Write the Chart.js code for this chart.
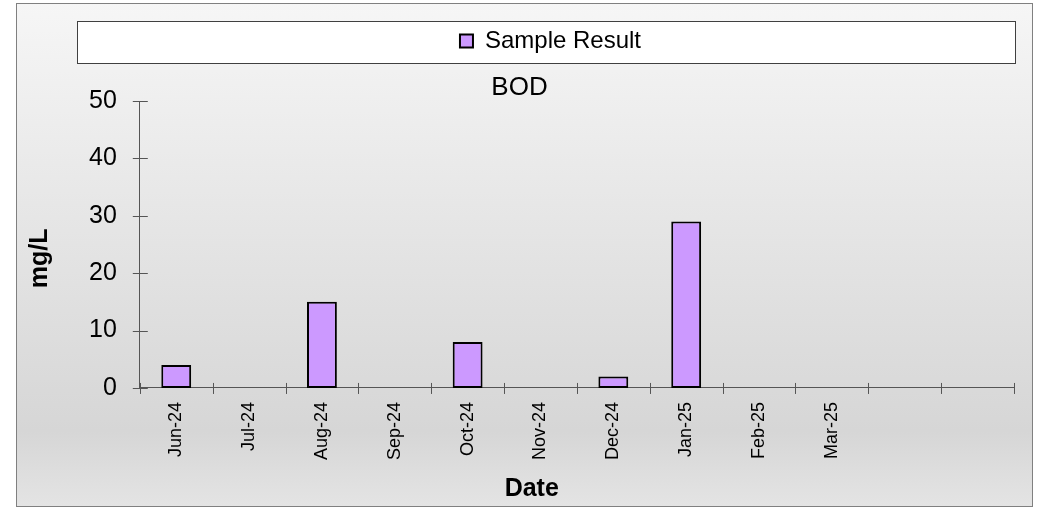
<!DOCTYPE html>
<html>
<head>
<meta charset="utf-8">
<script src="https://cdn.jsdelivr.net/npm/chart.js@4/dist/chart.umd.min.js"></script>
<style>
    html, body { margin: 0; padding: 0; background: #fff; }
    #wrap { width: 1046px; height: 508px; position: relative; }
</style>
</head>
<body>
<div id="wrap"><canvas id="bodChart"></canvas></div>
<script>
// BOD sample results
const months = ["Jun-24", "Jul-24", "Aug-24", "Sep-24", "Oct-24", "Nov-24", "Dec-24", "Jan-25", "Feb-25", "Mar-25", "", ""]
const sampleResult = [4, null, 15, null, 8, null, 2, 29, null, null, null, null]
const yTicks = [0, 10, 20, 30, 40, 50]

const FONT = "'Liberation Sans', Arial, sans-serif"

// frame, gradient background and the white legend box
const backdrop = {
    id: "backdrop",
    afterLayout(chart) {
        // legend sits a little right of centre in the original
        chart.legend.left += 31
        chart.legend.right += 31
    },
    beforeDraw(chart) {
        const ctx = chart.ctx
        ctx.save()
        const g = ctx.createLinearGradient(0, 3, 0, 507)
        g.addColorStop(0, "#f6f6f6")
        g.addColorStop(0.85, "#d6d6d6")
        g.addColorStop(1, "#e4e4e4")
        ctx.fillStyle = g
        ctx.fillRect(16.5, 3.5, 1016, 503)
        ctx.strokeStyle = "#808080"
        ctx.lineWidth = 1
        ctx.strokeRect(16.5, 3.5, 1016, 503)

        const lg = chart.legend
        ctx.fillStyle = "#ffffff"
        ctx.fillRect(77.5, lg.top + 0.5, 938, lg.bottom - lg.top)
        ctx.strokeStyle = "#404040"
        ctx.strokeRect(77.5, lg.top + 0.5, 938, lg.bottom - lg.top)
        ctx.restore()
    },
}

// tick marks that cross the axis lines
const crossTicks = {
    id: "crossTicks",
    afterDatasetsDraw(chart) {
        const ctx = chart.ctx
        const ca = chart.chartArea
        const xs = chart.scales.x
        const ys = chart.scales.y
        ctx.save()
        ctx.strokeStyle = "#555555"
        ctx.lineWidth = 1
        ctx.beginPath()
        ys.ticks.forEach((t) => {
            const y = Math.round(ys.getPixelForValue(t.value)) + 0.5
            ctx.moveTo(ca.left - 7, y)
            ctx.lineTo(ca.left + 8, y)
        })
        const w = xs.getPixelForValue(1) - xs.getPixelForValue(0)
        for (let i = 0; i <= months.length; i++) {
            const x = Math.round(xs.getPixelForValue(i) - w / 2) + 0.5
            ctx.moveTo(x, ca.bottom - 5)
            ctx.lineTo(x, ca.bottom + 6)
        }
        ctx.stroke()
        ctx.restore()
    },
}

const ctx = document.getElementById("bodChart")
new Chart(ctx.getContext("2d"), {
    type: "bar",
    data: {
        labels: months,
        datasets: [
            {
                label: "Sample Result",
                data: sampleResult,
                backgroundColor: "#cc99ff",
                borderColor: "#000000",
                borderWidth: 2,
                borderSkipped: false,
                barPercentage: 0.41,
                categoryPercentage: 1,
            },
        ],
    },
    options: {
        responsive: true,
        maintainAspectRatio: false,
        animation: false,
        layout: {
            padding: { left: 25, right: 32, top: 21, bottom: 4 },
        },
        plugins: {
            legend: {
                display: true,
                position: "top",
                weight: 1000,
                labels: {
                    color: "#000",
                    boxWidth: 13,
                    boxHeight: 13,
                    padding: 8,
                    font: { family: FONT, size: 24 },
                },
            },
            title: {
                display: true,
                text: "BOD",
                weight: 500,
                color: "#000",
                font: { family: FONT, size: 26, weight: "normal", lineHeight: 1 },
                padding: { top: 12, bottom: 0 },
            },
            tooltip: { enabled: false },
        },
        scales: {
            x: {
                offset: true,
                grid: { display: false, drawTicks: false, offset: true },
                border: { display: true, color: "#555555", width: 1 },
                ticks: {
                    color: "#000",
                    autoSkip: false,
                    minRotation: 90,
                    maxRotation: 90,
                    padding: 14,
                    font: { family: FONT, size: 18 },
                },
                title: {
                    display: true,
                    // trailing spaces pull the title left, as in the original
                    text: "Date             ",
                    color: "#000",
                    font: { family: FONT, size: 25, weight: "bold" },
                    padding: { top: 0, bottom: 0 },
                },
            },
            y: {
                min: 0,
                max: 50,
                afterBuildTicks: (scale) => {
                    scale.ticks = yTicks.map((v) => ({ value: v }))
                },
                grid: { display: false, drawTicks: false },
                border: { display: true, color: "#555555", width: 1 },
                ticks: {
                    color: "#000",
                    padding: 23,
                    font: { family: FONT, size: 25 },
                },
                title: {
                    display: true,
                    text: "mg/L    ",
                    color: "#000",
                    font: { family: FONT, size: 25, weight: "bold" },
                    padding: { top: 0, bottom: 11 },
                },
            },
        },
    },
    plugins: [backdrop, crossTicks],
})
</script>
</body>
</html>
